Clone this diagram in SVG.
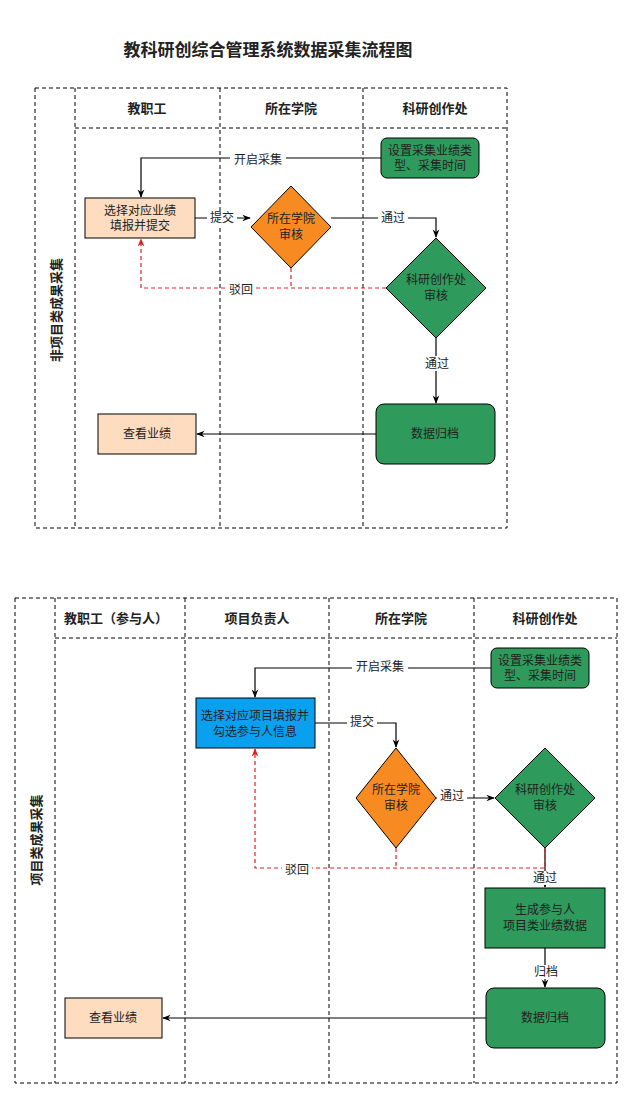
<svg xmlns="http://www.w3.org/2000/svg" width="633" height="1098" viewBox="0 0 633 1098">
<defs>
<marker id="a" viewBox="0 0 10 10" refX="9" refY="5" markerWidth="7" markerHeight="7" orient="auto"><path d="M0,1 L10,5 L0,9 L3,5 Z" fill="#000"/></marker>
<marker id="r" viewBox="0 0 10 10" refX="9" refY="5" markerWidth="7" markerHeight="7" orient="auto"><path d="M0,1 L10,5 L0,9 L3,5 Z" fill="#e02020"/></marker>
</defs>
<style>
text{font-family:"Liberation Sans","Noto Sans CJK SC",sans-serif;font-size:12px;fill:#222;text-anchor:middle;dominant-baseline:central}
.h{font-weight:bold;font-size:13px}
.t{font-weight:bold;font-size:17px}
.d{fill:none;stroke:#000;stroke-width:1;stroke-dasharray:4,3}
.c{fill:none;stroke:#000;stroke-width:1.2}
.rd{fill:none;stroke:#e02020;stroke-width:1.2;stroke-dasharray:4,3}
.lb{fill:#fff;stroke:none}
.pe{fill:#fddcc0;stroke:#000}
.gr{fill:#2e9a5b;stroke:#000}
.or{fill:#f78b22;stroke:#000}
.bl{fill:#0aa0f0;stroke:#000}
</style>
<rect width="633" height="1098" fill="#fff"/>
<text class="t" x="268" y="50">教科研创综合管理系统数据采集流程图</text>
<g id="pool1">
<rect class="d" x="35" y="88" width="472" height="440"/>
<line class="d" x1="75" y1="88" x2="75" y2="528"/>
<line class="d" x1="220" y1="88" x2="220" y2="528"/>
<line class="d" x1="363" y1="88" x2="363" y2="528"/>
<line class="d" x1="75" y1="128" x2="507" y2="128"/>
<text class="h" x="147" y="108">教职工</text>
<text class="h" x="291" y="108">所在学院</text>
<text class="h" x="435" y="108">科研创作处</text>
<text class="h" transform="translate(56,310) rotate(-90)">非项目类成果采集</text>
</g>
<g id="pool2">
<rect class="d" x="15" y="598" width="602" height="485"/>
<line class="d" x1="55" y1="598" x2="55" y2="1083"/>
<line class="d" x1="185" y1="598" x2="185" y2="1083"/>
<line class="d" x1="329" y1="598" x2="329" y2="1083"/>
<line class="d" x1="474" y1="598" x2="474" y2="1083"/>
<line class="d" x1="55" y1="638" x2="617" y2="638"/>
<text class="h" x="116" y="618">教职工（参与人）</text>
<text class="h" x="257" y="618">项目负责人</text>
<text class="h" x="401" y="618">所在学院</text>
<text class="h" x="545" y="618">科研创作处</text>
<text class="h" transform="translate(36,840) rotate(-90)">项目类成果采集</text>
</g>
<g id="connectors">
<path class="c" d="M381,158 H141 V197" marker-end="url(#a)"/>
<rect class="lb" x="230" y="152" width="56" height="15"/><text x="258" y="160">开启采集</text>
<path class="c" d="M195,218 H250" marker-end="url(#a)"/>
<rect class="lb" x="207" y="211" width="30" height="14"/><text x="222" y="218">提交</text>
<path class="c" d="M331,218 H436 V237" marker-end="url(#a)"/>
<rect class="lb" x="378" y="211" width="30" height="14"/><text x="393" y="218">通过</text>
<path class="rd" d="M291,268 V288"/>
<path class="rd" d="M386,288 H141 V239" marker-end="url(#r)"/>
<rect class="lb" x="226" y="282" width="30" height="15"/><text x="241" y="290">驳回</text>
<path class="c" d="M436,338 V403" marker-end="url(#a)"/>
<rect class="lb" x="422" y="356" width="30" height="15"/><text x="437" y="364">通过</text>
<path class="c" d="M376,434 H197" marker-end="url(#a)"/>

<path class="c" d="M491,668 H255 V697" marker-end="url(#a)"/>
<rect class="lb" x="352" y="660" width="56" height="15"/><text x="380" y="667">开启采集</text>
<path class="c" d="M315,723 H396 V747" marker-end="url(#a)"/>
<rect class="lb" x="347" y="716" width="30" height="14"/><text x="362" y="722">提交</text>
<path class="c" d="M436,798 H494" marker-end="url(#a)"/>
<rect class="lb" x="437" y="789" width="30" height="15"/><text x="452" y="796">通过</text>
<path class="c" d="M545,848 V887" marker-end="url(#a)"/>
<path class="rd" d="M396,848 V868"/>
<path class="rd" d="M545,848 V868 H255 V749" marker-end="url(#r)"/>
<rect class="lb" x="282" y="862" width="30" height="15"/><text x="297" y="870">驳回</text>
<rect class="lb" x="530" y="871" width="30" height="14"/><text x="545" y="878">通过</text>
<path class="c" d="M545,948 V987" marker-end="url(#a)"/>
<rect class="lb" x="532" y="965" width="28" height="14"/><text x="546" y="972">归档</text>
<path class="c" d="M486,1018 H163" marker-end="url(#a)"/>
</g>
<g id="n1"><rect class="gr" x="381" y="138" width="98" height="40" rx="6"/><text x="430" y="151">设置采集业绩类</text><text x="430" y="166">型、采集时间</text></g>
<g id="n2"><rect class="pe" x="85" y="198" width="110" height="40"/><text x="140" y="211">选择对应业绩</text><text x="140" y="226">填报并提交</text></g>
<g id="n3"><path class="or" d="M291,186 L331,227 L291,268 L251,227 Z"/><text x="291" y="219">所在学院</text><text x="291" y="235">审核</text></g>
<g id="n4"><path class="gr" d="M436,238 L486,288 L436,338 L386,288 Z"/><text x="436" y="280">科研创作处</text><text x="436" y="296">审核</text></g>
<g id="n5"><rect class="gr" x="376" y="404" width="119" height="60" rx="8"/><text x="435" y="434">数据归档</text></g>
<g id="n6"><rect class="pe" x="98" y="414" width="98" height="40"/><text x="147" y="434">查看业绩</text></g>

<g id="m1"><rect class="gr" x="491" y="648" width="98" height="40" rx="6"/><text x="540" y="661">设置采集业绩类</text><text x="540" y="676">型、采集时间</text></g>
<g id="m2"><rect class="bl" x="196" y="698" width="119" height="50"/><text x="255" y="716">选择对应项目填报并</text><text x="255" y="732">勾选参与人信息</text></g>
<g id="m3"><path class="or" d="M396,748 L436,798 L396,848 L356,798 Z"/><text x="396" y="790">所在学院</text><text x="396" y="806">审核</text></g>
<g id="m4"><path class="gr" d="M545,748 L595,798 L545,848 L495,798 Z"/><text x="545" y="790">科研创作处</text><text x="545" y="806">审核</text></g>
<g id="m5"><rect class="gr" x="485" y="888" width="120" height="60"/><text x="545" y="910">生成参与人</text><text x="545" y="926">项目类业绩数据</text></g>
<g id="m6"><rect class="gr" x="486" y="988" width="119" height="60" rx="8"/><text x="545" y="1018">数据归档</text></g>
<g id="m7"><rect class="pe" x="65" y="998" width="97" height="40"/><text x="113" y="1018">查看业绩</text></g>
</svg>
